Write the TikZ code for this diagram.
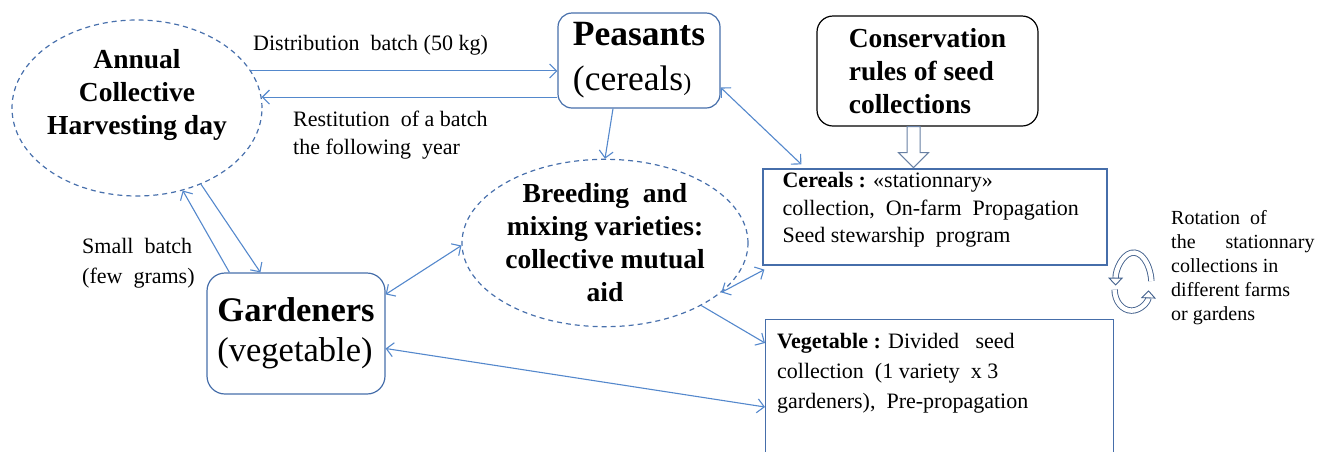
\documentclass[tikz,border=0pt]{standalone}
\usepackage{fontspec}
\setmainfont{Liberation Serif}
\usetikzlibrary{arrows.meta}
\usetikzlibrary{shapes.geometric}
\usetikzlibrary{calc}
\definecolor{arrblue}{RGB}{84,136,204}
\definecolor{ellblue}{RGB}{72,112,172}
\definecolor{boxblue}{RGB}{70,110,170}
\definecolor{rotblue}{RGB}{66,96,140}
\tikzset{
  arr/.style={arrblue, line width=1.1pt, -{Straight Barb[length=7pt,width=14pt]}},
  darr/.style={arr, {Straight Barb[length=7pt,width=14pt]}-{Straight Barb[length=7pt,width=14pt]}},
  meeting/.style={ellipse, draw=ellblue, dash pattern=on 5pt off 4pt, line width=1.2pt, inner sep=0pt},
  actor/.style={rectangle, rounded corners=14pt, draw=boxblue, line width=1.2pt, align=left, inner sep=0pt},
  collbox/.style={rectangle, draw=boxblue, line width=1.2pt, inner sep=0pt},
  lbl/.style={font=\fontsize{22}{27.5}\selectfont, inner sep=0pt, align=left},
  ttl/.style={font=\bfseries\fontsize{27.5}{33}\selectfont, inner sep=0pt, align=center},
  blockarr/.style={draw=rotblue!80!white, line width=1pt, fill=white},
  rotarr/.style={rotblue, line width=0.9pt, double=white, double distance=4.5pt, -{Triangle[open,length=8pt,width=15pt]}}
}
\begin{document}
\begin{tikzpicture}[x=1pt,y=1pt]
	\useasboundingbox (0,0) rectangle (1320,-451);

	% the two meetings
	\node[meeting, minimum width=250pt, minimum height=176pt] (annual) at (137,-108) {};
	\node[ttl] (annualtxt) at ([yshift=13pt]annual.center) {Annual\\Collective\\Harvesting day};
	\node[meeting, ttl, minimum width=286pt, minimum height=166pt] (breed) at (605,-243) {Breeding~ and\\mixing varieties:\\collective mutual\\aid};

	% actors
	\node[actor, minimum width=162pt, minimum height=95pt, font=\fontsize{35.5}{45}\selectfont] (peas) at (639,-60.5) {\textbf{Peasants}\\(cereals{\fontsize{24}{24}\selectfont)}};
	\node[actor, rounded corners=18pt, minimum width=178pt, minimum height=121pt, font=\fontsize{34.5}{40}\selectfont] (gard) at (296,-333.5) {\textbf{Gardeners}\\(vegetable)};
	\node[actor, draw=black, rounded corners=16pt, minimum width=221pt, minimum height=110pt, font=\bfseries\fontsize{27.5}{33}\selectfont] (cons) at (927.5,-71) {Conservation\\rules of seed\\collections};

	% collections
	\node[collbox, minimum width=344pt, minimum height=96pt] (cer) at (935,-217) {};
	\node[lbl, anchor=north west] (certxt) at ([xshift=20pt,yshift=-4pt]cer.north west) {\textbf{Cereals :} «stationnary»\\collection,~ On-farm~ Propagation\\Seed stewarship~ program};
	\node[collbox, minimum width=348pt, minimum height=142pt, anchor=north west] (veg) at (765,-319) {};
	\node[lbl, font=\fontsize{22}{30}\selectfont, anchor=north west] (vegtxt) at ([xshift=12pt,yshift=-14pt]veg.north west) {\textbf{Vegetable :} Divided~~ seed\\collection~ (1 variety~ x 3\\gardeners),~ Pre-propagation};

	% labels
	\node[lbl, anchor=base west] (distlbl) at (253,-50) {Distribution~ batch (50 kg)};
	\node[lbl, anchor=north west] (restlbl) at (293,-111) {Restitution~ of a batch\\the following~ year};
	\node[lbl, font=\fontsize{22}{30}\selectfont, anchor=north west] (smalllbl) at (82,-238) {Small~ batch\\(few~ grams)};
	\node[lbl, font=\fontsize{20}{24}\selectfont, anchor=north west] (rotlbl) at (1171,-210) {Rotation~ of\\the~~~~~ stationnary\\collections in\\different farms\\or gardens};

	% connectors
	\draw[arr] (annual.18) -- (annual.18 -| peas.west);
	\draw[arr] (annual.5 -| peas.west) -- (annual.5);
	\draw[arr] ([xshift=-26pt]peas.south) -- (breed.north);
	\draw[darr] ([yshift=-27pt]peas.east) -- ([shift={(39pt,4pt)}]cer.north west);
	\draw[arr] ([xshift=23pt]gard.north west) -- (annual.-61);
	\draw[arr] (annual.-50) -- ([xshift=54pt]gard.north west);
	\draw[darr] ([yshift=-22pt]gard.north east) -- (breed.181);
	\draw[darr] ([yshift=-15pt]gard.east) -- ([yshift=-88pt]veg.north west);
	\draw[darr] (breed.-23) -- ([shift={(2pt,-4pt)}]cer.south west);
	\draw[arr] (breed.-33) -- ([yshift=-24pt]veg.north west);

	% rules feed the cereal collection
	\coordinate (ba) at ([xshift=-14pt]cons.south);
	\draw[blockarr] ([xshift=-6.5pt]ba) -- ++(0,-26) -- ++(-8.5,0) -- ([yshift=-41pt]ba) -- ++(15,15) -- ++(-8.5,0) -- ([xshift=6.5pt]ba) -- cycle;

	% rotation
	\coordinate (rc) at ([shift={(26pt,-20pt)}]cer.south east);
	\coordinate (rd) at ([shift={(24pt,-24pt)}]cer.south east);
	\draw[rotarr] ([shift={(8:18pt and 33pt)}]rc) arc[start angle=8, end angle=180, x radius=18pt, y radius=33pt];
	\draw[rotarr] ([shift={(180:17pt and 21pt)}]rd) arc[start angle=180, end angle=358, x radius=17pt, y radius=21pt];
\end{tikzpicture}
\end{document}
